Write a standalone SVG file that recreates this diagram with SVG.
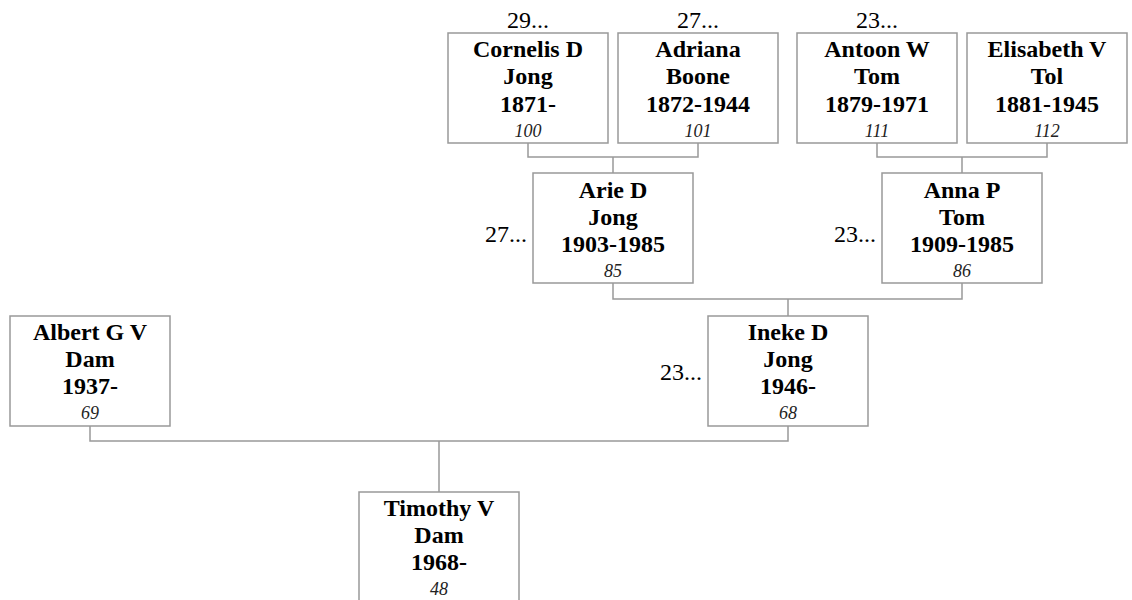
<svg xmlns="http://www.w3.org/2000/svg" width="1132" height="600" viewBox="0 0 1132 600">
<style>
.box{fill:#fff;stroke:#999;stroke-width:1.5}
.conn{fill:none;stroke:#999;stroke-width:1.5}
.nm{font-family:"Liberation Serif","Times New Roman",serif;font-size:24px;font-weight:bold;fill:#000;text-anchor:middle}
.id{font-family:"Liberation Serif","Times New Roman",serif;font-size:18px;font-style:italic;fill:#222;text-anchor:middle}
.lbl{font-family:"Liberation Serif","Times New Roman",serif;font-size:24px;fill:#000}
</style>
<rect width="1132" height="600" fill="#fff"/>
<g id="connectors">
<path class="conn" d="M528 143V157H698V143M613 157V173"/>
<path class="conn" d="M877 143V157H1047V143M962 157V173"/>
<path class="conn" d="M613 283V299H962V283M788 299V316"/>
<path class="conn" d="M90 426V441H788V426M439 441V492"/>
</g>
<g id="p100">
<rect class="box" x="448" y="33" width="160" height="110"/>
<text class="lbl" x="528" y="28" text-anchor="middle">29...</text>
<text class="nm" x="528" y="57">Cornelis D</text>
<text class="nm" x="528" y="84">Jong</text>
<text class="nm" x="528" y="112">1871-</text>
<text class="id" x="528" y="137">100</text>
</g>
<g id="p101">
<rect class="box" x="618" y="33" width="160" height="110"/>
<text class="lbl" x="698" y="28" text-anchor="middle">27...</text>
<text class="nm" x="698" y="57">Adriana</text>
<text class="nm" x="698" y="84">Boone</text>
<text class="nm" x="698" y="112">1872-1944</text>
<text class="id" x="698" y="137">101</text>
</g>
<g id="p111">
<rect class="box" x="797" y="33" width="160" height="110"/>
<text class="lbl" x="877" y="28" text-anchor="middle">23...</text>
<text class="nm" x="877" y="57">Antoon W</text>
<text class="nm" x="877" y="84">Tom</text>
<text class="nm" x="877" y="112">1879-1971</text>
<text class="id" x="877" y="137">111</text>
</g>
<g id="p112">
<rect class="box" x="967" y="33" width="160" height="110"/>
<text class="nm" x="1047" y="57">Elisabeth V</text>
<text class="nm" x="1047" y="84">Tol</text>
<text class="nm" x="1047" y="112">1881-1945</text>
<text class="id" x="1047" y="137">112</text>
</g>
<g id="p85">
<rect class="box" x="533" y="173" width="160" height="110"/>
<text class="lbl" x="527" y="242" text-anchor="end">27...</text>
<text class="nm" x="613" y="198">Arie D</text>
<text class="nm" x="613" y="225">Jong</text>
<text class="nm" x="613" y="252">1903-1985</text>
<text class="id" x="613" y="277">85</text>
</g>
<g id="p86">
<rect class="box" x="882" y="173" width="160" height="110"/>
<text class="lbl" x="876" y="242" text-anchor="end">23...</text>
<text class="nm" x="962" y="198">Anna P</text>
<text class="nm" x="962" y="225">Tom</text>
<text class="nm" x="962" y="252">1909-1985</text>
<text class="id" x="962" y="277">86</text>
</g>
<g id="p69">
<rect class="box" x="10" y="316" width="160" height="110"/>
<text class="nm" x="90" y="340">Albert G V</text>
<text class="nm" x="90" y="367">Dam</text>
<text class="nm" x="90" y="394">1937-</text>
<text class="id" x="90" y="419">69</text>
</g>
<g id="p68">
<rect class="box" x="708" y="316" width="160" height="110"/>
<text class="lbl" x="702" y="380" text-anchor="end">23...</text>
<text class="nm" x="788" y="340">Ineke D</text>
<text class="nm" x="788" y="367">Jong</text>
<text class="nm" x="788" y="394">1946-</text>
<text class="id" x="788" y="419">68</text>
</g>
<g id="p48">
<rect class="box" x="359" y="492" width="160" height="110"/>
<text class="nm" x="439" y="516">Timothy V</text>
<text class="nm" x="439" y="543">Dam</text>
<text class="nm" x="439" y="570">1968-</text>
<text class="id" x="439" y="595">48</text>
</g>
</svg>
